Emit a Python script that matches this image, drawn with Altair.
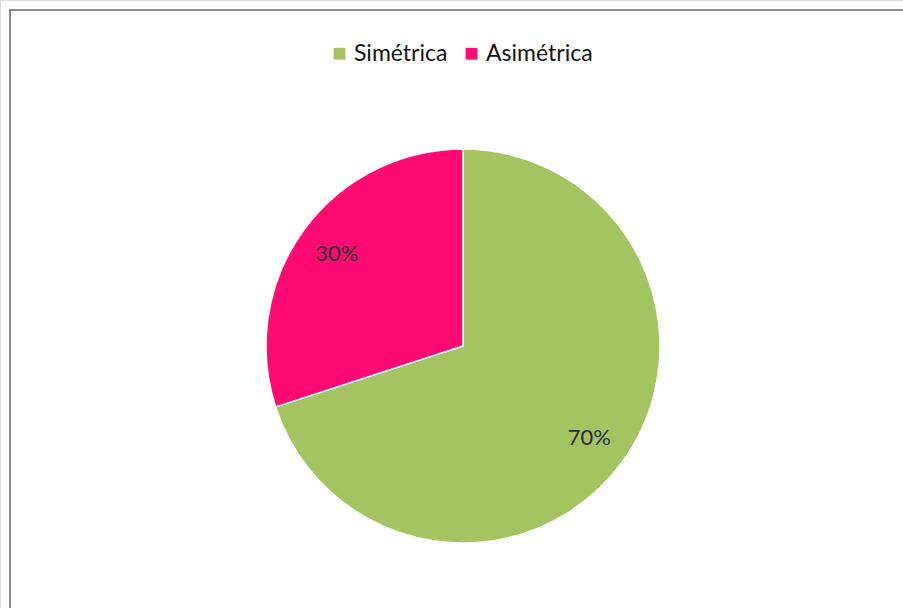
import altair as alt
import pandas as pd

categories = ["Simétrica", "Asimétrica"]
values = [70, 30]
labels = ["70%", "30%"]
colors = ["#A4C462", "#FF0A73"]

df = pd.DataFrame({"cat": categories, "val": values, "lab": labels, "ord": [0, 1]})

cx, cy = 463, 346

base = alt.Chart(df).encode(
    theta=alt.Theta("val:Q", stack=True),
    order=alt.Order("ord:Q"),
)

pie = base.mark_arc(outerRadius=197, stroke="#ffffff", strokeWidth=1.5).encode(
    x=alt.value(cx),
    y=alt.value(cy),
    color=alt.Color(
        "cat:N",
        scale=alt.Scale(domain=categories, range=colors),
        legend=alt.Legend(
            title=None,
            orient="none",
            legendX=328,
            legendY=42,
            direction="horizontal",
            symbolType="square",
            symbolSize=140,
            symbolStrokeWidth=0,
            labelFont="Lato",
            labelFontSize=23,
            labelColor="#111111",
            columnPadding=12,
            labelOffset=3,
        ),
    ),
)

text = base.mark_text(radius=156, font="Lato", fontSize=22, color="#2a2a2a").encode(
    x=alt.value(cx),
    y=alt.value(cy),
    text="lab:N",
)

border_top = alt.Chart(df).mark_rule(color="#8a8a8a", strokeWidth=2).encode(
    x=alt.value(9), x2=alt.value(903), y=alt.value(10)
)
border_left = alt.Chart(df).mark_rule(color="#8a8a8a", strokeWidth=2).encode(
    x=alt.value(10), y=alt.value(9), y2=alt.value(608)
)

chart = (
    alt.layer(pie, text, border_top, border_left)
    .properties(width=903, height=608, autosize=alt.AutoSizeParams(type="none"), padding=0)
    .configure_view(stroke=None)
    .configure(background="#ffffff")
)

chart.save("out.html", embed_options={"renderer": "svg", "actions": False})
